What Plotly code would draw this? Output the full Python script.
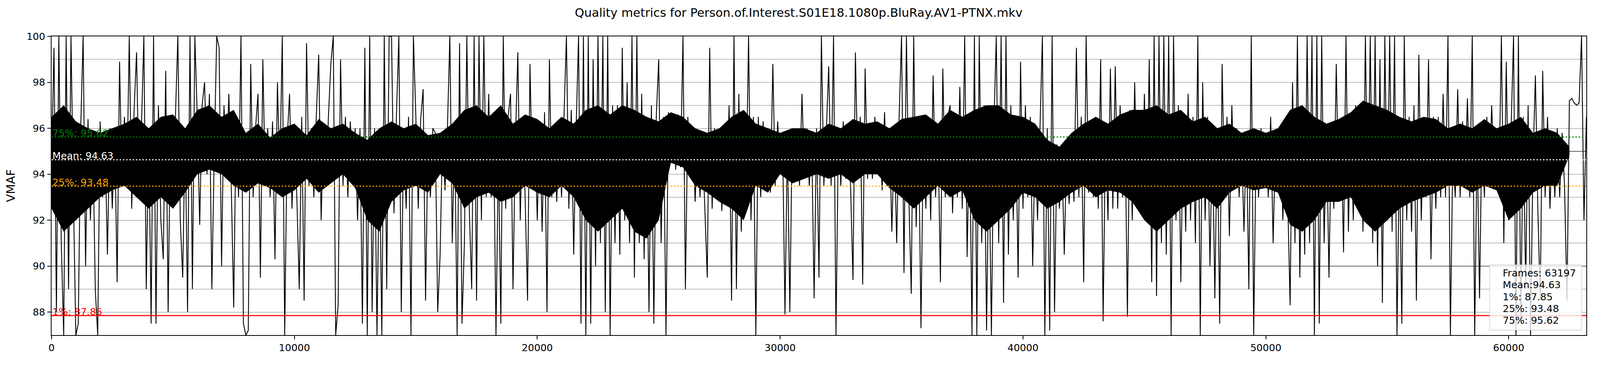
import numpy as np
import plotly.graph_objects as go

# VMAF readings, one every FRAME_STEP frames (10 per 1000 frames)
FRAME_STEP = 100
vmaf = [
    94.5, 99.5, 88, 100, 91, 87, 100, 89, 100, 93,
    87, 87.5, 96, 100, 90, 96.4, 92, 95.5, 89, 87,
    96.3, 93, 95.5, 90.5, 96, 92.5, 95.8, 89.3, 98.9, 93.5,
    96.5, 93.5, 100, 92.5, 96.8, 99.3, 93.3, 96, 100, 89,
    96, 87.5, 100, 87.5, 97, 92, 90.3, 98.5, 88, 96.5,
    93, 96.5, 100, 92, 89.5, 96, 88, 100, 89, 100,
    96.5, 91.8, 97, 98, 94, 97.5, 89, 95, 100, 99.5,
    90, 97, 94, 97.5, 93.5, 88.2, 96.5, 93, 100, 87.5,
    87, 87.2, 98.8, 93, 96, 97.5, 89.5, 99, 93.5, 96,
    93, 96.3, 90.3, 98, 94, 100, 87, 95.5, 97.5, 92.5,
    96, 93, 89, 96.5, 88.5, 99.7, 93.5, 96, 93, 96.5,
    99.2, 92, 96, 93.5, 96.5, 98.8, 100, 87, 88.3, 99,
    93.5, 96.5, 93, 96.3, 94, 96, 92, 96, 87.5, 99.5,
    87, 100, 88, 96, 87, 95, 87, 100, 89, 100,
    100, 92.3, 96.5, 100, 88, 96, 92.5, 96.5, 87, 100,
    96.5, 92.5, 96.4, 97.7, 88.5, 95.5, 93, 96, 95.8, 88,
    90.5, 95.8, 93.3, 96, 100, 91, 96, 87, 99.7, 87.5,
    91, 100, 92.5, 89, 100, 88.5, 100, 92, 100, 93,
    97.5, 93, 96, 87, 95, 87.5, 100, 92.5, 96.5, 97.5,
    89, 95.5, 99.3, 92, 96.5, 93, 88.5, 98.8, 93.5, 96,
    92, 96.3, 91.5, 96.7, 88, 99, 93, 96, 92.8, 95.5,
    93, 96.5, 100, 92.5, 96.8, 90.5, 96, 100, 87.5, 100,
    87, 100, 87.5, 99, 90, 100, 91, 100, 88, 100,
    87, 97, 91, 97, 90.5, 99.5, 92, 98, 91, 100,
    89.5, 100, 91, 97.5, 90.3, 96.5, 88, 97, 87.5, 96.5,
    99, 91, 96.5, 87, 96.7, 94.5, 96.5, 94.2, 96.6, 94.3,
    100, 89, 96.5, 94.2, 96, 92.8, 95.5, 93, 95.5, 92.5,
    89.5, 99.5, 92.5, 96, 93, 95.6, 92.4, 95.5, 93.5, 97,
    88.5, 100, 89, 97.5, 91.5, 96.5, 93, 100, 92, 96.5,
    87, 96.5, 93, 96.3, 93.5, 96, 93.2, 98.8, 93.5, 96.3,
    94, 95.6, 87.9, 95.5, 88, 96, 93.8, 95.8, 93.5, 97.5,
    94, 96, 93.5, 95.5, 88.6, 96, 89.5, 100, 93.5, 95.8,
    98.7, 93.5, 100, 87, 95.8, 93.5, 96.3, 93.8, 96, 93.5,
    89.4, 99.3, 94, 96.5, 89.2, 98.6, 93.8, 96.2, 93.8, 96.5,
    94, 96, 93.3, 96.7, 93.5, 96, 91.5, 95.5, 91, 96.5,
    100, 89.7, 100, 93, 88.8, 100, 91.7, 96, 87.3, 96,
    92.5, 96.5, 92, 98.3, 93, 96, 89.3, 98.6, 93, 96.5,
    97, 92.3, 96, 93, 97.8, 92.5, 100, 90.4, 96, 87,
    100, 87, 100, 91, 97, 87.2, 95, 87, 96, 100,
    91, 100, 88.4, 100, 90.5, 97, 92, 96.5, 89.5, 98.9,
    92.5, 97, 93, 96.5, 90, 95.5, 92, 96, 100, 87,
    96, 87.2, 100, 88, 95.3, 92.5, 95, 90.5, 95.2, 92.7,
    95, 92.8, 99.5, 93, 96.5, 89.3, 100, 93.2, 96, 93,
    96.5, 92.5, 99, 87.6, 96, 92, 98.6, 92.5, 98.7, 92.5,
    97, 93, 96.5, 87.8, 96.8, 92, 98, 93, 96.5, 92.8,
    97.5, 92.5, 99, 89.3, 100, 88.7, 100, 91, 100, 90.5,
    100, 87, 100, 92, 97, 89.3, 96.5, 91.5, 97.5, 92,
    96.5, 91, 100, 87, 98, 92, 96.5, 90, 96, 88.6,
    96, 87.5, 98.8, 93, 96.5, 91.3, 97, 93.5, 96, 93,
    95.5, 91.5, 95.8, 89, 100, 87, 95.5, 93, 96, 93.5,
    95.8, 93, 96.5, 91, 95.5, 93.3, 96, 92, 95, 93,
    88.3, 98, 91, 100, 89.5, 96.5, 90.5, 100, 91, 100,
    87, 100, 87.5, 100, 91, 96, 89.5, 96, 92.5, 98.8,
    93, 96, 90.6, 100, 91.5, 96.5, 92, 97, 93, 96.5,
    91.5, 100, 92, 100, 91, 100, 90, 99, 88.4, 100,
    92, 100, 91.5, 100, 87, 95, 87.5, 100, 92, 96.5,
    91.5, 97, 88.5, 99.2, 92, 96, 93, 99, 90.3, 96.5,
    92.5, 96.5, 93, 97.5, 93, 100, 87, 95, 93, 97.7,
    93, 96.3, 93.5, 97.3, 93, 100, 87, 95.5, 88.6, 96,
    93, 96.5, 93.5, 97, 94, 96, 93.5, 100, 91, 98.9,
    92, 96, 100, 87, 100, 87.5, 96.5, 89, 97, 87,
    94.5, 98.3, 92.5, 88.5, 98.5, 93, 96.5, 92.5, 95.8, 93,
    96, 93, 95.8, 93.5, 88.5, 97.2, 97.3, 97.1, 97.0, 97.1,
    100, 92, 96.5,
]

# dense core of the trace (where the frames pile up), one low/high pair per 500 frames
CORE_STEP = 500
core_low = [
    92.5, 91.5, 92, 92.5, 93, 93.3, 93.5, 93, 92.5, 93,
    92.5, 93.2, 94, 94.2, 94, 93.5, 93.2, 93.6, 93.4, 93,
    93.3, 93.8, 93.2, 93.6, 94, 93.4, 92, 91.5, 92.8, 93.3,
    93.5, 93.2, 94, 93.6, 92.5, 93, 93.2, 92.8, 93, 93.5,
    93.2, 93, 93.5, 93, 92, 91.5, 92, 92.5, 91.5, 91.2,
    92, 94.5, 94.3, 93.5, 93.2, 92.8, 92.5, 92, 93.5, 93.2,
    94, 93.6, 93.8, 94, 93.8, 94, 93.6, 94, 94, 93.4,
    93, 92.5, 93, 93.5, 93, 93.3, 92, 91.5, 92, 92.5,
    93.2, 93, 92.5, 92.8, 93.2, 93.5, 93, 93.3, 93.2, 92.8,
    92, 91.5, 92, 92.5, 92.8, 93, 92.5, 93.2, 93.5, 93.3,
    93.4, 93.2, 91.8, 91.5, 92, 92.8, 92.8, 93, 92, 91.5,
    92, 92.5, 92.8, 93, 93.2, 93.5, 93.5, 93.2, 93.5, 93.3,
    92, 92.5, 93.2, 93.5, 93.5, 94.8,
]
core_high = [
    96.5, 97, 96.3, 96, 95.8, 96, 96.2, 96.5, 96, 96.5,
    96.6, 96, 96.8, 97, 96.5, 96.8, 95.8, 96.2, 95.6, 96,
    96.2, 95.7, 96.4, 96, 96.2, 95.8, 95.5, 96, 96.3, 96,
    96.2, 95.7, 95.8, 96.2, 96.8, 97, 96.5, 97, 96.2, 96.6,
    96.4, 96, 96.5, 96.2, 96.8, 97, 96.6, 97, 96.8, 96.5,
    96.3, 96.7, 96.5, 96, 95.8, 96, 96.5, 96.8, 96.2, 96,
    95.8, 96, 96, 95.8, 96.2, 96, 96.4, 96.2, 96.3, 96,
    96.4, 96.5, 96.6, 96.2, 96.8, 96.5, 96.8, 97, 97, 96.6,
    96.5, 96.2, 95.5, 95.2, 95.8, 96.2, 96.5, 96.2, 96.6, 96.8,
    96.8, 97, 96.6, 96.8, 96.3, 96.5, 96, 96.2, 95.8, 96,
    95.8, 96, 96.8, 97, 96.5, 96.2, 96.4, 96.7, 97.2, 97,
    96.8, 96.5, 96.3, 96.5, 96.4, 96, 96.2, 96, 96.4, 96,
    96.2, 96.5, 95.8, 96, 95.8, 95.2,
]

frame_count = 63197
vmaf_mean = 94.63
vmaf_p1 = 87.85
vmaf_p25 = 93.48
vmaf_p75 = 95.62
threshold_lines = [90, 95]

title = "Quality metrics for Person.of.Interest.S01E18.1080p.BluRay.AV1-PTNX.mkv"

# the page gets photographed ~7.6% larger than laid out, so lay out at this scale
SCALE = 1 / 1.076


def px(v):
    return v * SCALE


def plot_vmaf() -> go.Figure:
    frames = np.arange(len(vmaf)) * FRAME_STEP
    core_frames = np.arange(len(core_low)) * CORE_STEP
    dash = f'{px(4):.1f}px,{px(5):.1f}px'

    fig = go.Figure()
    fig.add_trace(go.Scatter(x=np.concatenate([core_frames, core_frames[::-1]]),
                             y=core_high + core_low[::-1], fill='toself', fillcolor='black',
                             mode='lines', line=dict(width=0), hoverinfo='skip'))
    fig.add_trace(go.Scatter(x=frames, y=vmaf, mode='lines',
                             line=dict(color='black', width=px(2.4)), hoverinfo='skip'))

    for y in threshold_lines:
        fig.add_hline(y=y, line=dict(color='black', width=px(2)), layer='below')

    # percentile / mean markers with their labels at the left edge
    stats = [('1%', vmaf_p1, 'red', 'solid'),
             ('25%', vmaf_p25, 'orange', dash),
             ('Mean', vmaf_mean, 'white', dash),
             ('75%', vmaf_p75, 'green', dash)]
    for label, value, color, line_dash in stats:
        fig.add_hline(y=value, line=dict(color=color, width=px(3), dash=line_dash), layer='above')
        fig.add_annotation(x=0, y=value, xref='x', yref='y', text=f'{label}: {value:.2f}',
                           showarrow=False, xanchor='left', yanchor='bottom', yshift=px(-7),
                           font=dict(color=color, size=px(27)))

    # legend-like summary box, bottom right
    fig.add_shape(type='rect', xref='paper', yref='paper', x0=0.937, x1=0.997, y0=0.017, y1=0.235,
                  fillcolor='rgba(255,255,255,0.8)',
                  line=dict(color='rgba(204,204,204,0.8)', width=px(2)), layer='above')
    summary = [f'Frames: {frame_count}', f'Mean:{vmaf_mean:.2f}', f'1%: {vmaf_p1:.2f}',
               f'25%: {vmaf_p25:.2f}', f'75%: {vmaf_p75:.2f}']
    for i, line in enumerate(summary):
        fig.add_annotation(x=0.9451, y=0.2072 - i * 0.0395, xref='paper', yref='paper', text=line,
                           showarrow=False, xanchor='left', yanchor='middle',
                           font=dict(size=px(27)))

    fig.update_layout(
        width=round(px(4400)), height=round(px(1000)), autosize=False,
        margin=dict(l=px(142), r=px(30), t=px(100), b=px(78)),
        paper_bgcolor='white', plot_bgcolor='white',
        font=dict(family='DejaVu Sans', size=px(27), color='black'),
        title=dict(text=title, x=0.5, xref='container', y=0.965, yanchor='middle',
                   font=dict(size=px(33))),
        showlegend=False,
    )
    fig.update_xaxes(range=[0, frame_count], tick0=0, dtick=10000, tickformat='d',
                     ticks='outside', ticklen=px(10), tickwidth=px(2), tickcolor='black',
                     showgrid=False, zeroline=False,
                     showline=True, linecolor='black', linewidth=px(2), mirror=True)
    fig.update_yaxes(range=[87, 100], tick0=0, dtick=2, ticks='outside', ticklen=px(10),
                     tickwidth=px(2), tickcolor='black', showgrid=True, gridcolor='#808080',
                     gridwidth=px(1.2), zeroline=False, showline=True, linecolor='black',
                     linewidth=px(2), mirror=True, title=dict(text='VMAF', standoff=px(22)),
                     minor=dict(dtick=1, showgrid=True, gridcolor='#808080', gridwidth=px(1.2)))
    return fig


def main() -> None:
    fig = plot_vmaf()
    fig.write_html("out.html", config={'displayModeBar': False, 'responsive': False},
                   post_script="document.body.style.margin='0';")


if __name__ == "__main__":
    main()
